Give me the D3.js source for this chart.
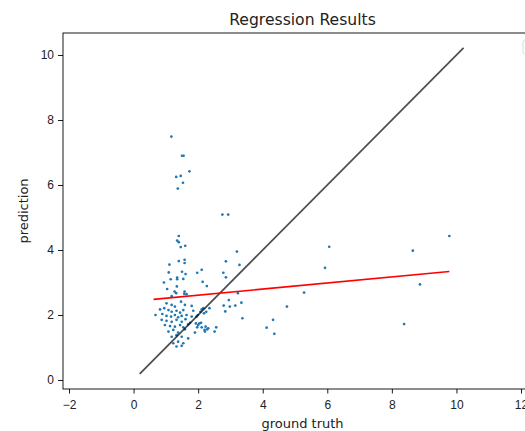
<!DOCTYPE html>
<html>
<head>
<meta charset="utf-8">
<script src="https://cdn.jsdelivr.net/npm/d3@7"></script>
<style>
  html, body { margin: 0; padding: 0; background: #fff; }
  svg { display: block; font-family: "DejaVu Sans", sans-serif; }
</style>
</head>
<body>
<svg id="chart" width="525" height="431"></svg>
<script>
// --- data ---
const groundTruth = [
  1.17, 1.50, 1.55, 1.73, 1.32, 1.46, 1.53, 1.37, 2.75, 2.93,
  1.40, 1.35, 1.40, 1.46, 1.60, 3.20, 1.11, 1.40, 1.58, 1.58,
  2.11, 2.86, 3.28, 1.50, 1.61, 1.09, 1.35, 1.35, 1.15, 1.54,
  0.94, 1.97, 2.78, 2.86, 2.14, 2.27, 1.34, 1.04, 1.27, 1.32,
  1.58, 1.64,
  3.23, 2.95, 3.34, 2.79, 2.98, 3.15, 2.84, 2.35, 2.25, 2.11,
  2.07, 2.18, 1.99, 3.37, 2.04, 1.97, 2.11, 2.20, 2.28, 2.56, 2.51,
  6.06, 5.93, 5.28, 4.75, 4.32, 4.12, 4.36, 8.65, 9.78, 8.87, 8.38,
  1.18, 1.57,
  1.02, 1.18, 1.47, 1.59, 1.28, 1.80,
  0.82, 0.95, 1.08, 1.18, 1.33, 1.44, 1.54, 1.85, 2.16,
  0.68, 0.89, 1.02, 1.16, 1.28, 1.38, 1.49, 1.64, 1.80, 1.95,
  0.87, 1.02, 1.18, 1.33, 1.49, 1.61, 1.75, 1.93, 2.09,
  0.97, 1.13, 1.28, 1.44, 1.54, 1.69, 2.00, 2.23, 2.31,
  1.08, 1.23, 1.38, 1.59, 1.90, 2.21,
  1.18, 1.33, 1.49, 1.69,
  1.23, 1.38, 1.54,
  1.33, 1.49
];
const prediction = [
  7.49, 6.90, 6.90, 6.42, 6.25, 6.28, 6.07, 5.89, 5.09, 5.09,
  4.43, 4.29, 4.24, 4.09, 4.13, 3.95, 3.55, 3.66, 3.70, 3.60,
  3.39, 3.65, 3.54, 3.33, 3.26, 3.31, 3.15, 3.10, 3.10, 3.11,
  3.00, 3.30, 3.30, 3.16, 3.02, 2.89, 2.88, 2.80, 2.72, 2.67,
  2.72, 2.64,
  2.67, 2.46, 2.38, 2.29, 2.26, 2.29, 2.11, 2.21, 2.10, 2.17,
  2.10, 2.05, 2.00, 1.90, 1.74, 1.62, 1.62, 1.54, 1.56, 1.62, 1.49,
  4.10, 3.45, 2.69, 2.26, 1.85, 1.61, 1.42, 3.98, 4.43, 2.94, 1.72,
  2.58, 2.65,
  2.36, 2.31, 2.41, 2.31, 2.26, 2.28,
  2.17, 2.21, 2.15, 2.10, 2.13, 2.07, 2.15, 2.13, 2.21,
  2.00, 2.03, 1.97, 1.95, 2.00, 1.93, 1.97, 2.00, 1.95, 1.95,
  1.85, 1.82, 1.79, 1.85, 1.79, 1.87, 1.76, 1.74, 1.76,
  1.69, 1.66, 1.64, 1.69, 1.62, 1.71, 1.69, 1.64, 1.59,
  1.49, 1.54, 1.46, 1.56, 1.46, 1.49,
  1.33, 1.38, 1.33, 1.28,
  1.13, 1.18, 1.13,
  1.03, 1.05
];
// fitted regression line and the ideal y = x line
const fitX = [0.62, 9.78];
const fitY = [2.48, 3.34];
const idealX = [0.19, 10.22];
const idealY = [0.19, 10.22];
const xTicks = [-2, 0, 2, 4, 6, 8, 10, 12];
const yTicks = [0, 2, 4, 6, 8, 10];

const points = groundTruth.map((g, i) => ({ gt: g, pred: prediction[i] }));

// --- layout ---
const svg = d3.select("#chart");
const plot = { left: 63, top: 33, right: 542, bottom: 389 };

const x = d3.scaleLinear().domain([-2.186, 12.65]).range([plot.left, plot.right]);
const y = d3.scaleLinear().domain([-0.277, 10.677]).range([plot.bottom, plot.top]);

// Trục X
svg.append("g")
  .attr("transform", `translate(0,${plot.bottom})`)
  .call(d3.axisBottom(x).tickValues(xTicks).tickSize(4.5).tickSizeOuter(0).tickPadding(6.5))
  .call(g => g.select(".domain").remove())
  .call(g => g.selectAll("line").attr("stroke", "#000").attr("stroke-width", 0.9))
  .call(g => g.selectAll("text").attr("fill", "#222").style("font-size", "12px"));

// Trục Y
svg.append("g")
  .attr("transform", `translate(${plot.left},0)`)
  .call(d3.axisLeft(y).tickValues(yTicks).tickSize(5).tickSizeOuter(0).tickPadding(4))
  .call(g => g.select(".domain").remove())
  .call(g => g.selectAll("line").attr("stroke", "#000").attr("stroke-width", 0.9))
  .call(g => g.selectAll("text").attr("fill", "#222").style("font-size", "12px"));

// spines (right one sits outside the window)
svg.append("rect")
  .attr("x", plot.left)
  .attr("y", plot.top)
  .attr("width", plot.right - plot.left)
  .attr("height", plot.bottom - plot.top)
  .attr("fill", "none")
  .attr("stroke", "#000")
  .attr("stroke-width", 0.9);

// scatter
svg.append("g")
  .selectAll("circle")
  .data(points)
  .enter().append("circle")
    .attr("cx", d => x(d.gt))
    .attr("cy", d => y(d.pred))
    .attr("r", 1.35)
    .attr("fill", "#1f77b4");

const line = d3.line().x(d => x(d[0])).y(d => y(d[1]));

// y = x line
svg.append("path")
  .datum(d3.zip(idealX, idealY))
  .attr("d", line)
  .attr("fill", "none")
  .attr("stroke", "#000")
  .attr("stroke-opacity", 0.7)
  .attr("stroke-width", 1.7);

// regression line
svg.append("path")
  .datum(d3.zip(fitX, fitY))
  .attr("d", line)
  .attr("fill", "none")
  .attr("stroke", "#ff0000")
  .attr("stroke-width", 1.6);

// legend frame, mostly cut off on the right
svg.append("rect")
  .attr("x", 523)
  .attr("y", 40)
  .attr("width", 14)
  .attr("height", 14)
  .attr("rx", 2)
  .attr("fill", "#fff")
  .attr("fill-opacity", 0.8)
  .attr("stroke", "#d6d6d6")
  .attr("stroke-width", 0.9);

// titles
svg.append("text")
  .attr("x", (plot.left + plot.right) / 2)
  .attr("y", 25)
  .attr("text-anchor", "middle")
  .attr("fill", "#222")
  .style("font-size", "15.6px")
  .text("Regression Results");

svg.append("text")
  .attr("x", (plot.left + plot.right) / 2)
  .attr("y", 428)
  .attr("text-anchor", "middle")
  .attr("fill", "#222")
  .style("font-size", "13px")
  .text("ground truth");

svg.append("text")
  .attr("transform", `translate(28,${(plot.top + plot.bottom) / 2}) rotate(-90)`)
  .attr("text-anchor", "middle")
  .attr("fill", "#222")
  .style("font-size", "13px")
  .text("prediction");
</script>
</body>
</html>
